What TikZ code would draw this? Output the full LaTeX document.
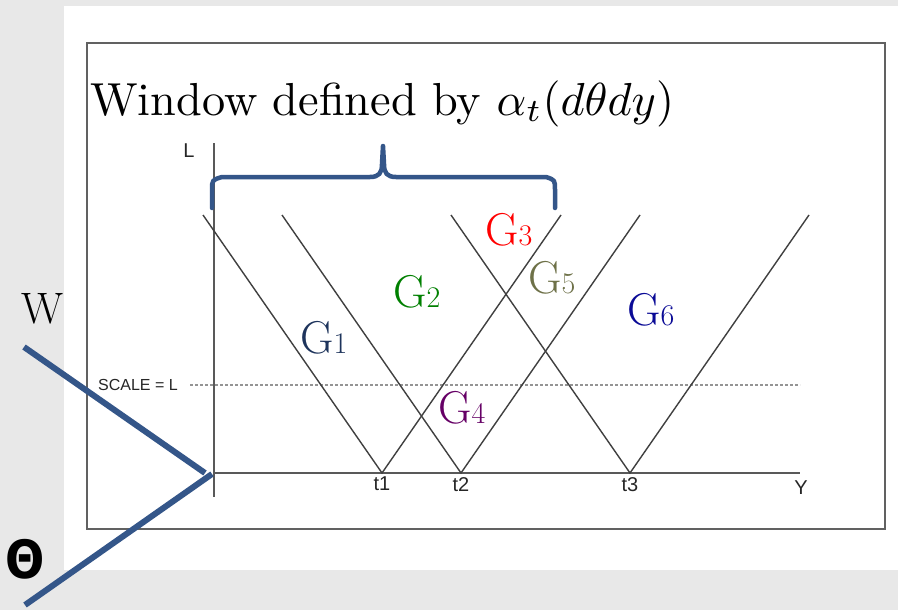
\documentclass[tikz,border=0pt]{standalone}
\usepackage{fontspec}
\usepackage{amsmath}
\newfontfamily\labelsans{Liberation Sans}
\newfontfamily\thetasans{DejaVu Sans}
\usepackage{tikz}
\usetikzlibrary{positioning,calc}
\usepackage{xcolor}
\definecolor{axisblue}{RGB}{52,86,137}
\definecolor{gnavy}{RGB}{30,52,92}
\definecolor{ggreen}{RGB}{0,128,0}
\definecolor{gred}{RGB}{255,0,0}
\definecolor{gpurple}{RGB}{102,0,102}
\definecolor{golive}{RGB}{110,113,72}
\definecolor{gblue}{RGB}{10,10,150}
\newcommand{\gname}[1]{G{\fontsize{30}{30}\selectfont #1}}

\begin{document}
\begin{tikzpicture}[x=1pt, y=-1pt,
    vline/.style={line width=1.4pt, black!75},
    axisline/.style={line width=1.6pt, black!65},
    smalllab/.style={font=\labelsans\fontsize{20}{20}\selectfont, text=black!85, inner sep=1pt},
    glab/.style={font=\fontsize{46}{46}\selectfont, anchor=base west, inner sep=0pt},
    bluebar/.style={line width=6pt, axisblue}]
    % Background and white panel
    \useasboundingbox (0,0) rectangle (898,610);
    \fill[black!9] (0,0) rectangle (898,610);
    \fill[white] (64,6) rectangle (898,570);
    \draw[line width=2pt, black!62] (87,43) rectangle (885,529);

    % Title
    \node[anchor=base west, inner sep=0pt] (title) at (90,115) {\scalebox{4.63}{Window defined by $\alpha_t(d\theta dy)$}};

    % Axes
    \coordinate (O) at (214,473);
    \coordinate (Ltop) at (214,143);
    \coordinate (Lbot) at (214,497);
    \coordinate (Yend) at (800,473);
    \draw[axisline] (Ltop) -- (Lbot);
    \draw[axisline] (O) -- (Yend);
    \node[smalllab] (Llab) at (189,151) {L};
    \node[smalllab] (Ylab) at (801,488) {Y};

    % Scale line
    \node[smalllab, anchor=west, font=\labelsans\fontsize{16}{16}\selectfont] (scalelab) at (97,385) {SCALE = L};
    \coordinate (Send) at (800,385);
    \draw[line width=2.6pt, black!42, dash pattern=on 3pt off 2pt] (190,385) -- (Send);

    % V lines at t1, t2, t3
    \foreach \i/\x in {1/382,2/461,3/630} {
        \coordinate (t\i) at (\x,473);
        \draw[vline] ($(t\i)+(-179,-258)$) -- (t\i) -- ($(t\i)+(179,-258)$);
        \node[smalllab, below=3pt of t\i] (t\i lab) {t\i};
    }

    % Window brace
    \draw[line width=4.5pt, axisblue, line cap=round, line join=round]
        (212,208) -- (212,190) .. controls (212,180) .. (222,177) -- (370,177)
        .. controls (379,177) and (382,173) .. (382,164) -- (383,146) -- (384,164)
        .. controls (384,173) and (387,177) .. (396,177) -- (546,177)
        .. controls (555,180) .. (555,190) -- (555,208);

    % Regions
    \node[glab, text=gnavy] (G1) at (300,353) {\gname{1}};
    \node[glab, text=ggreen] (G2) at (393,307) {\gname{2}};
    \node[glab, text=gred] (G3) at (485,245) {\gname{3}};
    \node[glab, text=gpurple] (G4) at (438,423) {\gname{4}};
    \node[glab, text=golive] (G5) at (528,293) {\gname{5}};
    \node[glab, text=gblue] (G6) at (627,325) {\gname{6}};

    % W and Theta directions
    \coordinate (Wend) at (24,347);
    \coordinate (Wroot) at (205,473);
    \coordinate (Troot) at (212,474);
    \coordinate (Tend) at (25,605);
    \draw[bluebar] (Wend) -- (Wroot);
    \draw[bluebar] (Troot) -- (Tend);
    \node[anchor=base west, inner sep=0pt, font=\fontsize{44}{44}\selectfont] (Wlab) at (21,323) {W};
    \node[inner sep=0pt, font=\thetasans\bfseries\fontsize{44}{44}\selectfont] (Thlab) at (25,559) {\scalebox{1.05}[1.2]{Θ}};
\end{tikzpicture}
\end{document}
